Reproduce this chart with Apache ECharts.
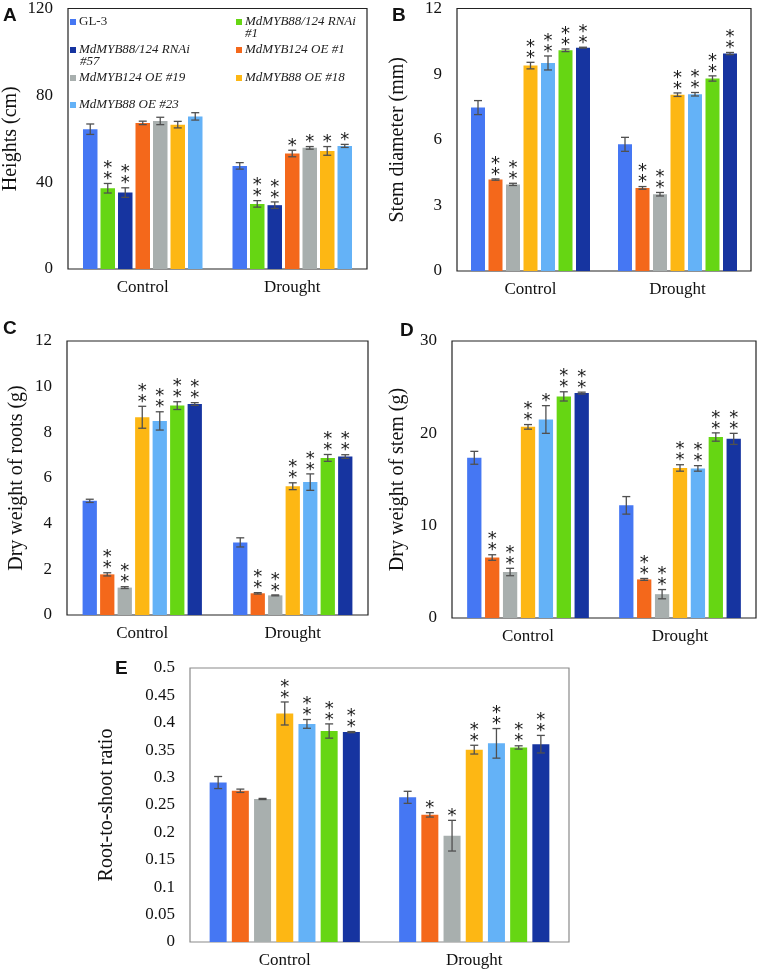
<!DOCTYPE html>
<html><head><meta charset="utf-8">
<script src="https://cdn.jsdelivr.net/npm/echarts@6/dist/echarts.min.js"></script>
<style>html,body{margin:0;padding:0;background:#fff}#c{width:758px;height:972px}</style>
</head><body><div id="c"></div>
<script>
// ---------- data ----------
const groups = ['Control', 'Drought'];
const lines = ['GL-3', 'MdMYB88/124 RNAi #1', 'MdMYB88/124 RNAi #57', 'MdMYB124 OE #1', 'MdMYB124 OE #19', 'MdMYB88 OE #18', 'MdMYB88 OE #23'];
// order of lines within a group, per panel
const orderA = [0, 1, 2, 3, 4, 5, 6];
const orderBE = [0, 3, 4, 5, 6, 1, 2];

// values per line (in 'lines' order): [Control, Drought]
const heightMean = [[64.4, 47.5], [37.2, 30.0], [35.2, 29.4], [67.3, 53.2], [68.2, 55.8], [66.5, 54.4], [70.3, 56.7]];
const heightErr  = [[2.4, 1.5], [2.2, 1.5], [2.2, 1.5], [0.8, 1.5], [1.7, 0.6], [1.5, 2.0], [1.7, 0.7]];
const heightSig  = [['', ''], ['**', '**'], ['**', '**'], ['', '*'], ['', '*'], ['', '*'], ['', '*']];

const stemDiaMean = [[7.47, 5.79], [10.09, 8.80], [10.21, 9.94], [4.18, 3.80], [3.96, 3.51], [9.39, 8.06], [9.51, 8.08]];
const stemDiaErr  = [[0.32, 0.32], [0.06, 0.12], [0.02, 0.05], [0.03, 0.06], [0.05, 0.08], [0.15, 0.08], [0.32, 0.08]];
const stemDiaSig  = [['', ''], ['**', '**'], ['**', '**'], ['**', '**'], ['**', '**'], ['**', '**'], ['**', '**']];

const rootMean = [[5.00, 3.18], [9.17, 6.88], [9.24, 6.94], [1.78, 0.95], [1.20, 0.86], [8.66, 5.64], [8.50, 5.82]];
const rootErr  = [[0.07, 0.20], [0.17, 0.15], [0.06, 0.08], [0.07, 0.03], [0.04, 0.02], [0.48, 0.15], [0.40, 0.36]];
const rootSig  = [['', ''], ['**', '**'], ['**', '**'], ['**', '**'], ['**', '**'], ['**', '**'], ['**', '**']];

const stemWMean = [[17.35, 12.2], [24.0, 19.6], [24.36, 19.4], [6.55, 4.18], [4.98, 2.58], [20.7, 16.25], [21.5, 16.2]];
const stemWErr  = [[0.7, 0.95], [0.5, 0.45], [0.1, 0.6], [0.3, 0.1], [0.4, 0.5], [0.25, 0.35], [1.5, 0.3]];
const stemWSig  = [['', ''], ['**', '**'], ['**', '**'], ['**', '**'], ['**', '**'], ['**', '**'], ['*', '**']];

const ratioMean = [[0.291, 0.264], [0.385, 0.355], [0.383, 0.361], [0.276, 0.232], [0.261, 0.194], [0.417, 0.351], [0.398, 0.3625]];
const ratioErr  = [[0.011, 0.011], [0.013, 0.003], [0.001, 0.016], [0.003, 0.004], [0.001, 0.028], [0.021, 0.008], [0.008, 0.027]];
const ratioSig  = [['', ''], ['**', '**'], ['**', '**'], ['', '*'], ['', '*'], ['**', '**'], ['**', '**']];

const yTitles = ['Heights (cm)', 'Stem diameter (mm)', 'Dry weight of roots (g)', 'Dry weight of stem (g)', 'Root-to-shoot ratio'];
const yMax = [120, 12, 12, 30, 0.5];
const yStep = [40, 3, 2, 10, 0.05];
const panelLetters = ['A', 'B', 'C', 'D', 'E'];

// ---------- style / layout ----------
const colors = ['#4577f3', '#66d613', '#1634a0', '#f4681b', '#a8afae', '#fdb714', '#64b2f7'];
const SERIF = 'Liberation Serif';
const panels = [
  {mean: heightMean, err: heightErr, sig: heightSig, order: orderA, grid: {left: 67, top: 8, width: 300, height: 261}, bw: 14.5, step: 17.5, gap: 47, border: '#222', letter: [3, 6]},
  {mean: stemDiaMean, err: stemDiaErr, sig: stemDiaSig, order: orderBE, grid: {left: 457, top: 8, width: 294, height: 263}, bw: 14, step: 17.5, gap: 49, border: '#222', letter: [392, 6]},
  {mean: rootMean, err: rootErr, sig: rootSig, order: orderBE, grid: {left: 67, top: 341, width: 301, height: 274}, bw: 14.3, step: 17.5, gap: 40, border: '#222', letter: [3, 319]},
  {mean: stemWMean, err: stemWErr, sig: stemWSig, order: orderBE, grid: {left: 452, top: 341, width: 304, height: 277}, bw: 14.3, step: 17.9, gap: 44, border: '#222', letter: [400, 321]},
  {mean: ratioMean, err: ratioErr, sig: ratioSig, order: orderBE, grid: {left: 190, top: 668, width: 379, height: 274}, bw: 17, step: 22.2, gap: 73, border: '#8a8a8a', letter: [115, 659]}
];

const grids = [], xAxes = [], yAxes = [], series = [], graphics = [];
panels.forEach((p, pi) => {
  grids.push(Object.assign({show: true, borderColor: p.border, borderWidth: 1.2, backgroundColor: '#fff'}, p.grid));
  xAxes.push({
    type: 'category', gridIndex: pi, data: groups,
    axisLine: {show: false}, axisTick: {show: false},
    axisLabel: {fontFamily: SERIF, fontSize: 17, color: '#111', margin: 10}
  });
  yAxes.push({
    type: 'value', gridIndex: pi, min: 0, max: yMax[pi], interval: yStep[pi],
    axisLine: {show: false}, axisTick: {show: false}, splitLine: {show: false},
    axisLabel: {fontFamily: SERIF, fontSize: 17, color: '#111', margin: 15},
    name: yTitles[pi], nameLocation: 'middle', nameGap: p.gap,
    nameTextStyle: {fontFamily: SERIF, fontSize: 20, color: '#111'}
  });
  const gapPct = ((p.step - p.bw) / p.bw * 100).toFixed(1) + '%';
  p.order.forEach((li, k) => {
    series.push({
      type: 'bar', name: lines[li], xAxisIndex: pi, yAxisIndex: pi,
      data: p.mean[li], barWidth: p.bw, barGap: gapPct,
      itemStyle: {color: colors[li]}, emphasis: {disabled: true}, silent: true
    });
  });
  p.order.forEach((li, k) => {
    const offset = (k - 3) * p.step;
    const sig = p.sig[li];
    series.push({
      type: 'custom', xAxisIndex: pi, yAxisIndex: pi, silent: true, clip: false, z: 5,
      data: groups.map((g, gi) => [gi, p.mean[li][gi], p.err[li][gi]]),
      encode: {x: 0, y: 1},
      renderItem: function (params, api) {
        const ci = api.value(0), v = api.value(1), e = api.value(2);
        const c = api.coord([ci, v]);
        const x = c[0] + offset;
        const yt = api.coord([ci, v + e])[1];
        const yb = api.coord([ci, v - e])[1];
        const st = {stroke: '#505050', lineWidth: 1.3};
        const ch = [
          {type: 'line', shape: {x1: x, y1: yt, x2: x, y2: yb}, style: st},
          {type: 'line', shape: {x1: x - 4, y1: yt, x2: x + 4, y2: yt}, style: st},
          {type: 'line', shape: {x1: x - 4, y1: yb, x2: x + 4, y2: yb}, style: st}
        ];
        const s = sig[params.dataIndex];
        for (let j = 0; j < s.length; j++) {
          ch.push({type: 'text', x: x, y: yt - 8 - j * 11 + 4,
            style: {text: '*', fill: '#1a1a1a', font: '18px "DejaVu Sans"', align: 'center', verticalAlign: 'middle'}});
        }
        return {type: 'group', children: ch};
      }
    });
  });
  graphics.push({type: 'text', left: p.letter[0], top: p.letter[1],
    style: {text: panelLetters[pi], font: 'bold 19px "Liberation Sans"', fill: '#111'}});
});

// legend (panel A), two columns
const legendPos = [[70, 15], [236, 15], [70, 43], [236, 43], [70, 71], [236, 71], [70, 98]];
const legends = lines.map((name, i) => ({
  data: [name], left: legendPos[i][0], top: legendPos[i][1], padding: 0,
  itemWidth: 6, itemHeight: 6, icon: 'rect', selectedMode: false, itemGap: 0,
  // the two RNAi entries wrap onto a second line (drawn below)
  formatter: function (n) { return (i === 1 || i === 2) ? n.replace(/ #\d+$/, '') : n; },
  textStyle: {fontFamily: SERIF, fontSize: 13, color: '#222', fontStyle: i === 0 ? 'normal' : 'italic', lineHeight: 14, padding: [0, 0, 0, -2]}
}));
graphics.push({type: 'text', left: 245, top: 27, style: {text: '#1', font: 'italic 13px "Liberation Serif"', fill: '#222'}});
graphics.push({type: 'text', left: 80, top: 55, style: {text: '#57', font: 'italic 13px "Liberation Serif"', fill: '#222'}});

const chart = echarts.init(document.getElementById('c'), null, {renderer: 'canvas'});
chart.setOption({
  animation: false,
  grid: grids, xAxis: xAxes, yAxis: yAxes, series: series,
  legend: legends, graphic: graphics
});
</script></body></html>
